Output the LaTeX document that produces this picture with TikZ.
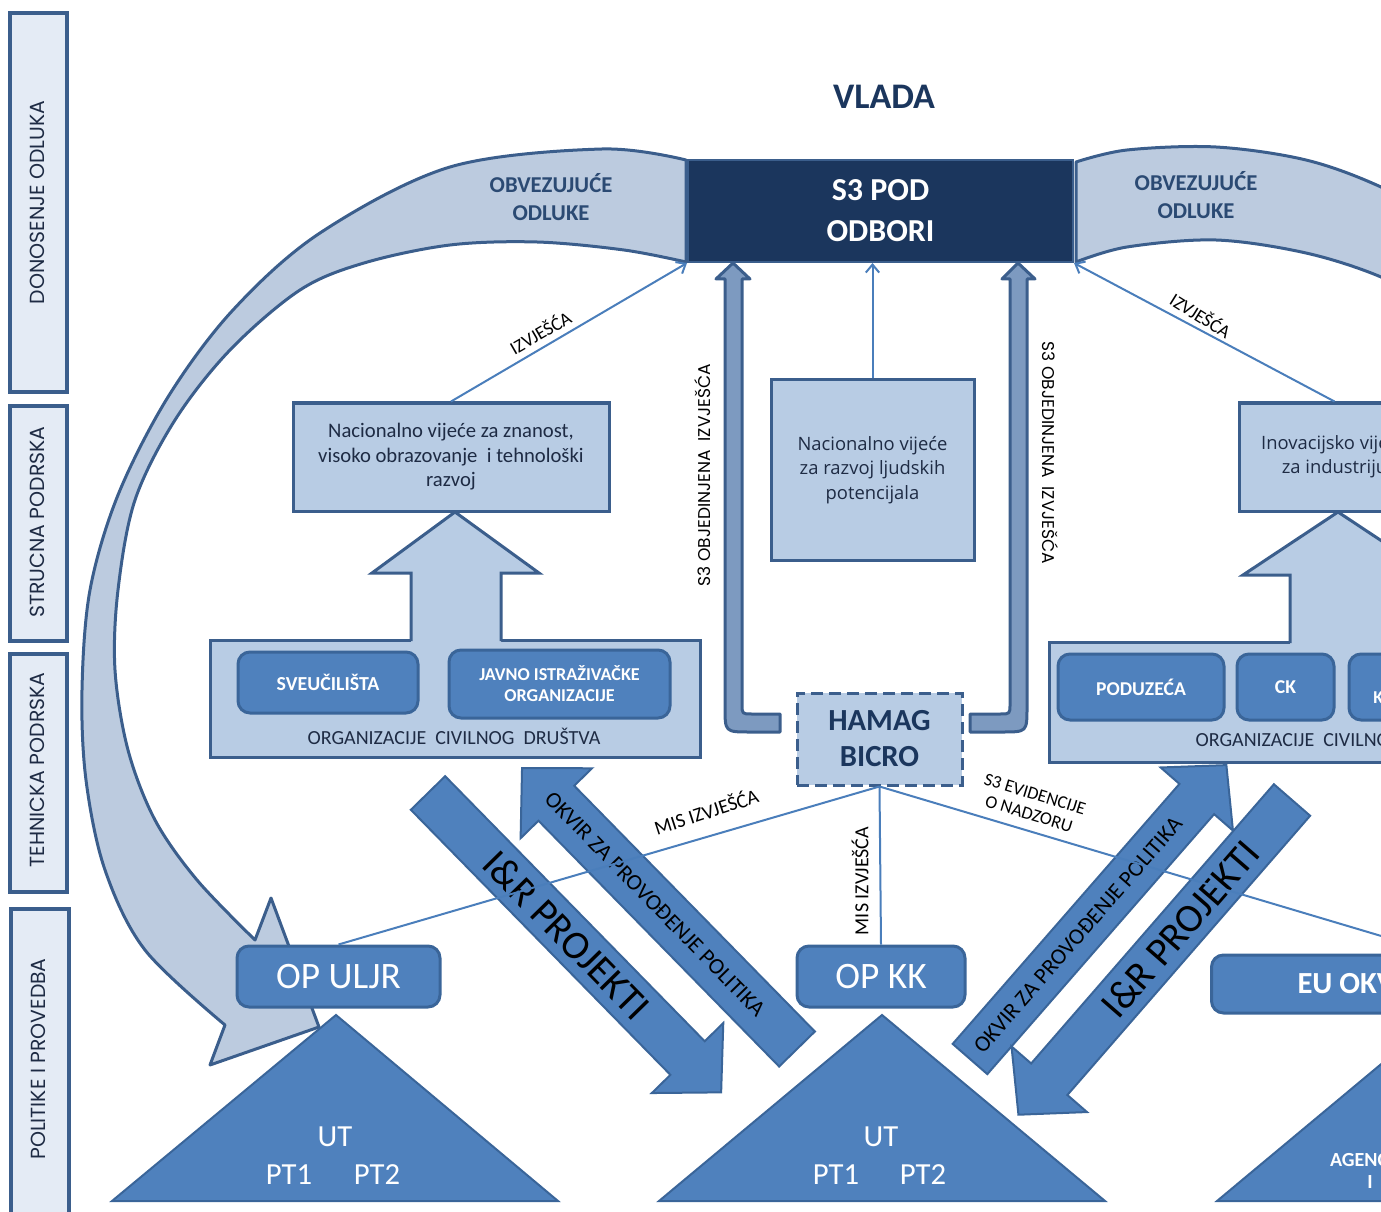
\documentclass[tikz,border=0pt]{standalone}
\usepackage{fontspec}
\setmainfont{Carlito}
\newfontfamily\gothic{Poppins}
\newfontfamily\osans{Open Sans}
\usetikzlibrary{arrows.meta}
\definecolor{sidefill}{HTML}{E4EBF5}
\definecolor{bdark}{HTML}{3B5E8C}
\definecolor{bandfill}{HTML}{BCCBDF}
\definecolor{lblue}{HTML}{B8CCE4}
\definecolor{mblue}{HTML}{4F81BD}
\definecolor{bmid}{HTML}{3A6599}
\definecolor{steel}{HTML}{7D9AC0}
\definecolor{navy}{HTML}{1B365D}
\definecolor{lineblue}{HTML}{4A7EBB}
\definecolor{txtdark}{HTML}{1E2B44}
\definecolor{obtxt}{HTML}{2B4A73}
\newcommand\pxu{0.75pt}
% #1 style, #2 #3 tail centre, #4 canvas angle, #5 length, #6 half shaft, #7 half head, #8 head length
\newcommand\blockarrow[8]{%
  \begin{scope}[shift={(#2,#3)},rotate=#4]
    \draw[#1] (0,-#6) -- ({#5-#8},-#6) -- ({#5-#8},-#7) -- (#5,0) -- ({#5-#8},#7) -- ({#5-#8},#6) -- (0,#6) -- cycle;
  \end{scope}}
\begin{document}
\begin{tikzpicture}[x=0.75pt,y=-0.75pt,
  side/.style={draw=bdark, fill=sidefill, line width=4*\pxu, inner sep=0pt},
  sidetext/.style={font=\gothic\fontsize{15.3}{17}\selectfont, text=txtdark},
  band/.style={draw=bdark, fill=bandfill, line width=3*\pxu, line join=round},
  lbox/.style={draw=bdark, fill=lblue, line width=3*\pxu, inner sep=0pt, align=center, text=txtdark},
  mbox/.style={draw=bmid, fill=mblue, line width=3*\pxu, rounded corners=12*\pxu, inner sep=0pt, align=center, text=white},
  thin/.style={draw=lineblue, line width=2*\pxu},
  thinarr/.style={thin, -{Straight Barb[length=6pt,width=10pt]}},
  bigarr/.style={draw=bmid, fill=mblue, line width=2*\pxu, line join=miter},
  s3arr/.style={draw=bdark, fill=steel, line width=3*\pxu, line join=round},
  tri/.style={draw=bmid, fill=mblue, line width=2*\pxu, line join=miter},
  lbl/.style={font=\fontsize{14}{16}\selectfont, text=black, inner sep=1pt},
  arrtxt/.style={text=black, inner sep=0pt},
  tritxt/.style={text=white, font=\fontsize{23}{26}\selectfont, inner sep=0pt},
]
\useasboundingbox (0,0) rectangle (1381,1212);
\clip (0,0) rectangle (1381,1212);

% ---- side column ----
\node[side, rotate=90, minimum width=379*\pxu, minimum height=57*\pxu] (side1) at (38.5,202.5) {};
\node[sidetext, rotate=90] (side1t) at (37,202.5) {DONOSENJE ODLUKA};
\node[side, rotate=90, minimum width=235*\pxu, minimum height=57*\pxu] (side2) at (38.5,523.5) {};
\node[sidetext, rotate=90] (side2t) at (37,522) {STRUCNA PODRSKA};
\node[side, rotate=90, minimum width=238*\pxu, minimum height=57*\pxu] (side3) at (38.5,773) {};
\node[sidetext, rotate=90] (side3t) at (37,770) {TEHNICKA PODRSKA};
\node[side, rotate=90, minimum width=340*\pxu, minimum height=58*\pxu] (side4) at (40,1079) {};
\node[sidetext, rotate=90] (side4t) at (38,1059) {POLITIKE I PROVEDBA};

% ---- curved bands ----
\path[band] plot[smooth, tension=0.55] coordinates {(686,160) (602,149) (450,167) (320,233) (233,310) (168,397) (118,495) (90,590) (82,690) (86,780) (105,870) (145,950) (225,1025)}
  -- (210,1065) -- (319,1027) -- (271,898) -- (255,940)
  -- plot[smooth, tension=0.55] coordinates {(255,940) (197,880) (155,820) (128,750) (115,670) (118,590) (135,500) (175,420) (230,350) (300,290) (364,263) (450,245) (537,242) (624,250) (686,262)} -- cycle;
\path[band] plot[smooth, tension=0.55] coordinates {(1076,162) (1127,150) (1216,147) (1306,160) (1381,187) (1460,230)}
  -- (1460,330) -- (1440,310)
  -- plot[smooth, tension=0.55] coordinates {(1440,310) (1381,277) (1306,253) (1216,240) (1127,247) (1076,262)} -- cycle;
\node[font=\fontsize{17}{21}\selectfont\bfseries, text=obtxt, align=center] (ob1) at (551,197) {OBVEZUJUĆE\\ODLUKE};
\node[font=\fontsize{17}{21}\selectfont\bfseries, text=obtxt, align=center] (ob2) at (1196,195) {OBVEZUJUĆE\\ODLUKE};

% ---- top ----
\node[font=\fontsize{27}{30}\selectfont\bfseries, text=navy] (vlada) at (884,97) {VLADA};
\node[draw=bdark, fill=navy, line width=2*\pxu, minimum width=385*\pxu, minimum height=102*\pxu, inner sep=0pt,
      text=white, align=center, font=\fontsize{24}{30.75}\selectfont\bfseries] (s3) at (880.5,211) {S3 POD\\ODBORI};

% ---- councils ----
\node[lbox, minimum width=316*\pxu, minimum height=108*\pxu, font=\fontsize{15.5}{18.4}\selectfont] (nv1) at (451,457)
  {Nacionalno vijeće za znanost,\\visoko obrazovanje \ i tehnološki\\razvoj};
\node[lbox, minimum width=203*\pxu, minimum height=180*\pxu, font=\osans\fontsize{13.8}{18.4}\selectfont] (nv2) at (872.5,470)
  {Nacionalno vijeće\\za razvoj ljudskih\\potencijala};
\node[lbox, minimum width=191*\pxu, minimum height=108*\pxu, font=\osans\fontsize{13.8}{18}\selectfont] (nv3) at (1334.5,457)
  {Inovacijsko vijeće\\za industriju};

% ---- civil society boxes ----
\node[lbox, minimum width=490*\pxu, minimum height=117*\pxu] (org1) at (455,698.5) {};
\node[font=\fontsize{15}{17}\selectfont, text=txtdark] (org1t) at (454,736) {ORGANIZACIJE \ CIVILNOG \ DRUŠTVA};
\node[lbox, minimum width=586*\pxu, minimum height=120*\pxu] (org2) at (1342,702) {};
\node[font=\fontsize{15}{17}\selectfont, text=txtdark] (org2t) at (1342,738) {ORGANIZACIJE \ CIVILNOG \ DRUŠTVA};

\fill[lblue] (411,643) -- (411,573) -- (372,573) -- (455,512) -- (539,573) -- (501,573) -- (501,643) -- cycle;
\draw[bdark, line width=3*\pxu, line join=miter] (411,641) -- (411,573) -- (372,573) -- (455,512) -- (539,573) -- (501,573) -- (501,641);
\fill[lblue] (1290,645) -- (1290,575) -- (1243,575) -- (1338,512) -- (1433,575) -- (1386,575) -- (1386,645) -- cycle;
\draw[bdark, line width=3*\pxu, line join=miter] (1290,643) -- (1290,575) -- (1243,575) -- (1338,512) -- (1433,575) -- (1386,575) -- (1386,643);

\node[mbox, minimum width=180*\pxu, minimum height=61*\pxu, font=\fontsize{14.9}{16}\selectfont\bfseries] (sve) at (328,682.5) {SVEUČILIŠTA};
\node[mbox, minimum width=221*\pxu, minimum height=68*\pxu, font=\fontsize{13.6}{15.75}\selectfont\bfseries] (jio) at (559.5,684) {JAVNO ISTRAŽIVAČKE\\ORGANIZACIJE};
\node[mbox, minimum width=166*\pxu, minimum height=66*\pxu, font=\fontsize{14.7}{16}\selectfont\bfseries] (pod) at (1141,687) {PODUZEĆA};
\node[mbox, minimum width=97*\pxu, minimum height=66*\pxu, font=\fontsize{14.7}{16}\selectfont\bfseries] (ck) at (1285.5,687) {CK};
\node[mbox, minimum width=190*\pxu, minimum height=66*\pxu, font=\fontsize{13.6}{15.75}\selectfont\bfseries] (kl) at (1444,687) {KLASTERI\\KONKURENTNOSTI};

% ---- S3 report arrows ----
\path[s3arr] (780,714) -- (752,714) .. controls (742,714) .. (742,704) -- (742,279) -- (750,279) -- (733,263) -- (716,279) -- (725,279) -- (725,707) .. controls (725,732) .. (750,732) -- (780,732) -- cycle;
\path[s3arr] (970,714) -- (1000,714) .. controls (1010,714) .. (1010,704) -- (1010,279) -- (1002,279) -- (1018,263) -- (1035,279) -- (1027,279) -- (1027,707) .. controls (1027,732) .. (1002,732) -- (970,732) -- cycle;
\node[font=\gothic\fontsize{12.8}{14}\selectfont, rotate=90] (s3l) at (703,475) {S3 OBJEDINJENA \ IZVJEŠĆA};
\node[font=\gothic\fontsize{12.8}{14}\selectfont, rotate=-90] (s3r) at (1050,453) {S3 OBJEDINJENA \ IZVJEŠĆA};

\node[lbox, draw=bdark, dash pattern=on 9pt off 4.5pt, minimum width=165*\pxu, minimum height=92*\pxu,
      text=navy, font=\fontsize{23}{27}\selectfont\bfseries] (hamag) at (879.5,739) {HAMAG\\BICRO};

% ---- report lines to S3 ----
\draw[thinarr] (nv1.north) -- (s3.south west);
\draw[thinarr] (nv3.north) -- (s3.south east);
\draw[thinarr] (nv2.north) -- (s3.south -| nv2.north);
\node[lbl, rotate=30] (izv1) at (540,332) {IZVJEŠĆA};
\node[lbl, rotate=-32] (izv2) at (1201,315) {IZVJEŠĆA};

% ---- big diagonal arrows ----
\blockarrow{bigarr}{428}{793}{-45.6}{419}{24}{50}{48}
\blockarrow{bigarr}{797}{1049}{134.4}{393}{25}{50}{49}
\blockarrow{bigarr}{970}{1059}{48.9}{390}{23}{48}{45}
\blockarrow{bigarr}{1292}{800}{-131}{417}{24}{50}{47}
\node[arrtxt, rotate=-45.6, font=\fontsize{30}{32}\selectfont] (irp1) at (567,935) {I\&R PROJEKTI};
\node[arrtxt, rotate=-45.6, font=\fontsize{17}{19}\selectfont] (okv1) at (655,904) {OKVIR ZA PROVOĐENJE POLITIKA};
\node[arrtxt, rotate=48.9, font=\fontsize{17}{19}\selectfont] (okv2) at (1078,935) {OKVIR ZA PROVOĐENJE POLITIKA};
\node[arrtxt, rotate=49, font=\fontsize{30}{32}\selectfont] (irp2) at (1180,929) {I\&R PROJEKTI};

% ---- operational programmes ----
\node[mbox, minimum width=203*\pxu, minimum height=61*\pxu, font=\fontsize{28}{30}\selectfont] (opuljr) at (338.5,976.5) {OP ULJR};
\node[mbox, minimum width=168*\pxu, minimum height=61*\pxu, font=\fontsize{28}{30}\selectfont] (opkk) at (881,976.5) {OP KK};
\node[mbox, anchor=west, minimum height=58*\pxu, inner xsep=86*\pxu, font=\fontsize{23}{26}\selectfont\bfseries] (eu) at (1210,984) {EU OKVIRNI PROGRAMI};

\draw[thin] (hamag.south) -- (opuljr.north);
\draw[thin] (hamag.south) -- (opkk.north);
\draw[thin] (hamag.south) -- ([xshift=230*\pxu]eu.north west);
\node[lbl, rotate=18, font=\fontsize{15}{17}\selectfont] (mis1) at (706,811) {MIS IZVJEŠĆA};
\node[lbl, rotate=90, font=\fontsize{15}{17}\selectfont] (mis2) at (860,881) {MIS IZVJEŠĆA};
\node[lbl, rotate=-17, align=center, font=\fontsize{13.5}{15.5}\selectfont] (evid) at (1032,804) {S3 EVIDENCIJE\\O NADZORU};

% ---- triangles ----
\draw[tri] (336,1015) -- (558,1201) -- (112,1201) -- cycle;
\draw[tri] (882,1015) -- (1105,1201) -- (659,1201) -- cycle;
\draw[tri] (1440,1015) -- (1663,1201) -- (1217,1201) -- cycle;
\node[tritxt] (ut1) at (335,1137) {UT};
\node[tritxt] (pt11) at (289,1175) {PT1};
\node[tritxt] (pt12) at (377,1175) {PT2};
\node[tritxt] (ut2) at (881,1137) {UT};
\node[tritxt] (pt21) at (836,1175) {PT1};
\node[tritxt] (pt22) at (923,1175) {PT2};
\node[text=white, font=\fontsize{15}{17}\selectfont\bfseries, align=center] (ag) at (1370,1171) {AGENCIJE\\I};
\end{tikzpicture}
\end{document}
